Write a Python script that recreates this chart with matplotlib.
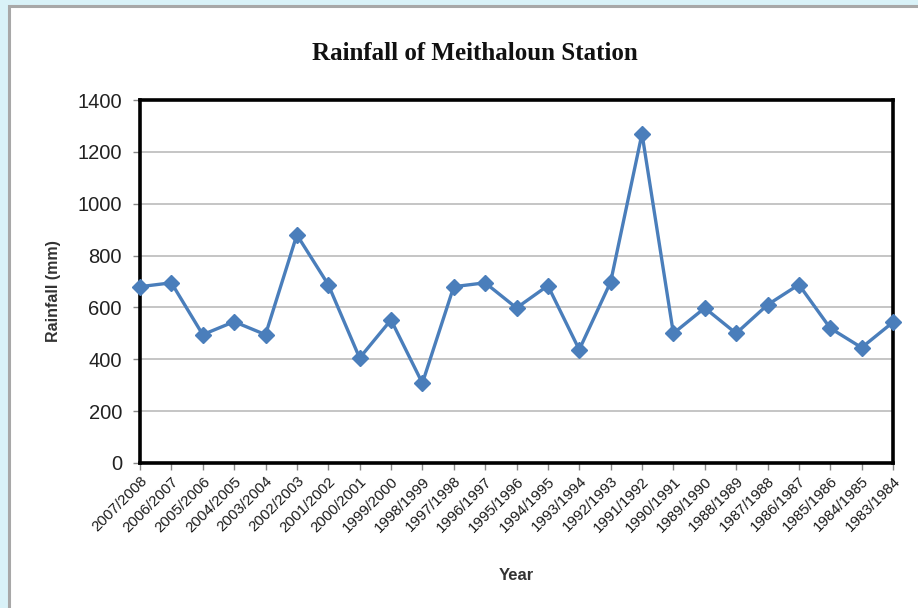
import matplotlib
matplotlib.use("Agg")
import matplotlib.pyplot as plt
from matplotlib.patches import Rectangle

seasons = ["2007/2008", "2006/2007", "2005/2006", "2004/2005", "2003/2004",
           "2002/2003", "2001/2002", "2000/2001", "1999/2000", "1998/1999",
           "1997/1998", "1996/1997", "1995/1996", "1994/1995", "1993/1994",
           "1992/1993", "1991/1992", "1990/1991", "1989/1990", "1988/1989",
           "1987/1988", "1986/1987", "1985/1986", "1984/1985", "1983/1984"]
rainfall_mm = [680, 695, 495, 545, 495,
               880, 688, 405, 552, 308,
               680, 695, 598, 684, 437,
               698, 1270, 500, 598, 500,
               610, 688, 520, 445, 543]
y_ticks = [0, 200, 400, 600, 800, 1000, 1200, 1400]

W, H = 918, 608
fig = plt.figure(figsize=(W / 100, H / 100), dpi=100)
fig.patch.set_facecolor("#d9f2f8")

# white panel with grey edge, kept behind the axes
panel = Rectangle((9 / W, -0.01), 1.0, 1.01 - 6 / H, transform=fig.transFigure,
                  facecolor="white", edgecolor="#a8a8a8", linewidth=2.2,
                  zorder=-5)
fig.patches.append(panel)

left, right, top, bottom = 140, 893, 100, 463
ax = fig.add_axes([left / W, 1 - bottom / H, (right - left) / W, (bottom - top) / H])
ax.set_facecolor("white")

x = list(range(len(seasons)))
ax.plot(x, rainfall_mm, color="#4a7ebb", linewidth=2.4, marker="D",
        markersize=8.5, markerfacecolor="#4a7ebb", markeredgecolor="#4a7ebb",
        clip_on=False, zorder=3)

ax.set_xlim(0, len(seasons) - 1)
ax.set_ylim(0, 1400)
ax.set_yticks(y_ticks)
ax.set_yticklabels([str(v) for v in y_ticks], fontsize=14.5,
                   family="Liberation Sans", color="#222222")
ax.set_xticks(x)
ax.set_xticklabels(seasons, rotation=45, ha="right", va="top",
                   rotation_mode="anchor", fontsize=10.8,
                   family="Liberation Sans", color="#1a1a1a")
ax.tick_params(axis="y", direction="out", length=5, width=1,
               color="#888888", pad=8)
ax.tick_params(axis="x", direction="out", length=5, width=1,
               color="#888888", pad=3)

ax.grid(axis="y", color="#c0c0c0", linewidth=1.3)
ax.set_axisbelow(True)
for side in ax.spines.values():
    side.set_linewidth(2.6)
    side.set_color("black")

ax.set_ylabel("Rainfall (mm)", fontsize=11.5, fontweight="bold",
              family="Liberation Sans", color="#333333")
ax.yaxis.set_label_coords(-0.105, 0.474)
ax.set_xlabel("Year", fontsize=12, fontweight="bold",
              family="Liberation Sans", color="#333333", labelpad=24)

fig.text(475 / W, 1 - 53 / H, "Rainfall of Meithaloun Station",
         ha="center", va="center", fontsize=18, fontweight="bold",
         family="Liberation Serif", color="#111111")

fig.savefig("out.png", dpi=100, facecolor=fig.get_facecolor())
